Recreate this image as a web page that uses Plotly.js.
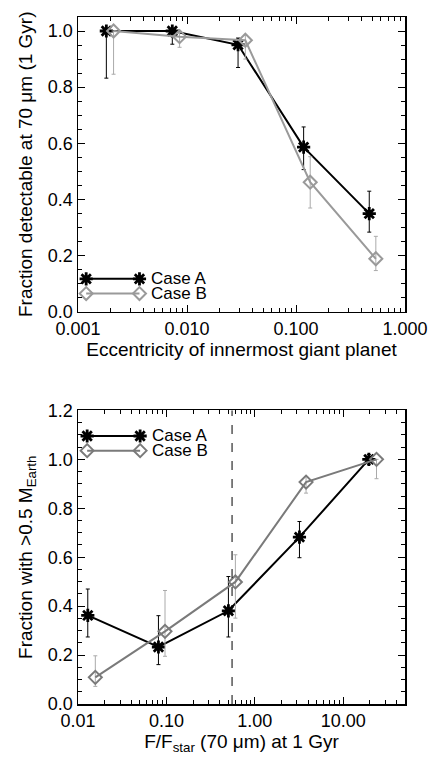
<!DOCTYPE html>
<html>
<head>
<meta charset="utf-8">
<script src="https://cdn.plot.ly/plotly-3.0.1.min.js"></script>
<style>html,body{margin:0;padding:0;background:#fff;}#chart{width:434px;height:760px;}</style>
</head>
<body>
<div id="chart"></div>
<script>
// ---------- Panel 1: eccentricity ----------
const eccA = [0.00182, 0.00733, 0.0294, 0.1175, 0.47];
const detA = [1.0, 1.0, 0.951, 0.586, 0.349];
const detA_hi = [1.0, 1.0, 0.975, 0.658, 0.429];
const detA_lo = [0.832, 0.953, 0.870, 0.506, 0.283];

const eccB = [0.00212, 0.00855, 0.0343, 0.135, 0.54];
const detB = [1.0, 0.980, 0.967, 0.461, 0.188];
const detB_hi = [1.0, 0.995, 0.985, 0.552, 0.268];
const detB_lo = [0.846, 0.942, 0.900, 0.369, 0.146];

// ---------- Panel 2: F/Fstar ----------
const fluxA = [0.0129, 0.0813, 0.503, 3.2, 19.5];
const fracA = [0.362, 0.233, 0.381, 0.682, 1.0];
const fracA_hi = [0.470, 0.361, 0.521, 0.746, 1.02];
const fracA_lo = [0.274, 0.161, 0.274, 0.598, 0.98];

const fluxB = [0.0157, 0.0964, 0.603, 3.8, 23.8];
const fracB = [0.109, 0.297, 0.499, 0.907, 1.0];
const fracB_hi = [0.197, 0.464, 0.610, 0.930, 1.0];
const fracB_lo = [0.072, 0.195, 0.351, 0.862, 0.921];

const fluxThreshold = 0.553;

const legendLabels = ['Case A', 'Case B'];
const topXTickVals = [0.001, 0.01, 0.1, 1];
const topXTickText = ['0.001', '0.010', '0.100', '1.000'];
const botXTickVals = [0.01, 0.1, 1, 10];
const botXTickText = ['0.01', '0.10', '1.00', '10.00'];

// ---------- styles ----------
const colA = '#000000';
const colBtop = '#9a9a9a';
const colBbot = '#7a7a7a';
const errGray = '#aaaaaa';
const FONT = 'Liberation Sans, Arial, Helvetica, sans-serif';

function errs(v, hi, lo) {
  return {
    type: 'data', symmetric: false,
    array: hi.map((h, i) => Math.max(0, h - v[i])),
    arrayminus: lo.map((l, i) => Math.max(0, v[i] - l))
  };
}
const symA = {symbol: 'asterisk-open', size: 11, color: colA, line: {color: colA, width: 2.8}};
function symB(c) { return {symbol: 'diamond-open', size: 10, color: c, line: {color: c, width: 2}}; }

const topLogRange = [-3, 0];
const botLogRange = [-2, Math.log10(50)];
const topYRange = [0, 1.05];
const botYRange = [0, 1.2];
function fracToLog(r, f) { return Math.pow(10, r[0] + f * (r[1] - r[0])); }
function fracToLin(r, f) { return r[0] + f * (r[1] - r[0]); }

const traces = [];
// Panel 1
traces.push({x: eccA, y: detA, xaxis: 'x', yaxis: 'y', mode: 'lines+markers',
  line: {color: colA, width: 2}, marker: symA,
  error_y: Object.assign(errs(detA, detA_hi, detA_lo), {color: colA, thickness: 1, width: 2}),
  showlegend: false, hoverinfo: 'x+y'});
traces.push({x: eccB, y: detB, xaxis: 'x', yaxis: 'y', mode: 'lines+markers',
  line: {color: colBtop, width: 2}, marker: symB(colBtop),
  error_y: Object.assign(errs(detB, detB_hi, detB_lo), {color: errGray, thickness: 1, width: 2}),
  showlegend: false, hoverinfo: 'x+y'});
// Panel 2
traces.push({x: fluxA, y: fracA, xaxis: 'x2', yaxis: 'y2', mode: 'lines+markers',
  line: {color: colA, width: 2}, marker: symA,
  error_y: Object.assign(errs(fracA, fracA_hi, fracA_lo), {color: colA, thickness: 1, width: 2}),
  showlegend: false, hoverinfo: 'x+y'});
traces.push({x: fluxB, y: fracB, xaxis: 'x2', yaxis: 'y2', mode: 'lines+markers',
  line: {color: colBbot, width: 2}, marker: symB(colBbot),
  error_y: Object.assign(errs(fracB, fracB_hi, fracB_lo), {color: errGray, thickness: 1, width: 2}),
  showlegend: false, hoverinfo: 'x+y'});

// In-plot legends (IDL style: line with symbol at both ends)
const annotations = [];
function addLegend(xa, ya, logR, linR, x0f, x1f, yfs, colB) {
  const cols = [colA, colB];
  const syms = [symA, symB(colB)];
  yfs.forEach((yf, i) => {
    const yv = fracToLin(linR, yf);
    traces.push({x: [fracToLog(logR, x0f), fracToLog(logR, x1f)], y: [yv, yv],
      xaxis: xa, yaxis: ya, mode: 'lines+markers', line: {color: cols[i], width: 2},
      marker: syms[i], showlegend: false, hoverinfo: 'skip'});
    annotations.push({xref: xa + ' domain', yref: ya, x: x1f + 0.03, y: yv,
      text: legendLabels[i], showarrow: false, xanchor: 'left', yanchor: 'middle',
      font: {family: FONT, size: 17, color: '#000'}});
  });
}
addLegend('x', 'y', topLogRange, topYRange, 0.025, 0.188, [0.111, 0.061], colBtop);
addLegend('x2', 'y2', botLogRange, botYRange, 0.028, 0.19, [0.913, 0.863], colBbot);

function minorLog(lo, hi) {
  const v = [];
  for (let d = lo; d < hi; d++) for (let k = 2; k <= 9; k++) v.push(k * Math.pow(10, d));
  return v;
}
const axisCommon = {
  showline: true, linecolor: '#000', linewidth: 1.5, mirror: 'ticks',
  ticks: 'inside', ticklen: 7, tickwidth: 1, tickcolor: '#000',
  showgrid: false, zeroline: false,
  tickfont: {family: FONT, size: 18, color: '#000'}
};
const titleFont = {family: FONT, size: 19, color: '#000'};

const layout = {
  width: 434, height: 760,
  margin: {l: 78, r: 29, t: 17, b: 56},
  paper_bgcolor: '#fff', plot_bgcolor: '#fff',
  font: {family: FONT, color: '#000'},
  xaxis: Object.assign({}, axisCommon, {type: 'log', range: topLogRange, domain: [0, 1], anchor: 'y',
    tickmode: 'array', tickvals: topXTickVals, ticktext: topXTickText,
    minor: {tickmode: 'array', tickvals: minorLog(-3, 0), ticks: 'inside', ticklen: 4, tickcolor: '#000', showgrid: false},
    title: {text: 'Eccentricity of innermost giant planet', font: titleFont, standoff: 2}}),
  yaxis: Object.assign({}, axisCommon, {range: topYRange, domain: [0.5713, 1], anchor: 'x',
    dtick: 0.2, tick0: 0, tickformat: '.1f',
    minor: {dtick: 0.05, ticks: 'inside', ticklen: 4, tickcolor: '#000', showgrid: false},
    title: {text: 'Fraction detectable at 70 \u03bcm (1 Gyr)', font: titleFont, standoff: 10}}),
  xaxis2: Object.assign({}, axisCommon, {type: 'log', range: botLogRange, domain: [0, 1], anchor: 'y2',
    tickmode: 'array', tickvals: botXTickVals, ticktext: botXTickText,
    minor: {tickmode: 'array', tickvals: minorLog(-2, 2).filter(v => v <= 50), ticks: 'inside', ticklen: 4, tickcolor: '#000', showgrid: false},
    title: {text: 'F/F<sub>star</sub> (70 \u03bcm) at 1 Gyr', font: titleFont, standoff: 2}}),
  yaxis2: Object.assign({}, axisCommon, {range: botYRange, domain: [0, 0.4273], anchor: 'x2',
    dtick: 0.2, tick0: 0, tickformat: '.1f',
    minor: {dtick: 0.05, ticks: 'inside', ticklen: 4, tickcolor: '#000', showgrid: false},
    title: {text: 'Fraction with >0.5 M<sub>Earth</sub>', font: titleFont, standoff: 10}}),
  shapes: [{type: 'line', xref: 'x2', yref: 'y2 domain', x0: fluxThreshold, x1: fluxThreshold, y0: 0, y1: 1,
    line: {color: '#000', width: 1, dash: 'dash'}}],
  annotations: annotations
};

Plotly.newPlot('chart', traces, layout, {staticPlot: true, displayModeBar: false});
</script>
</body>
</html>
